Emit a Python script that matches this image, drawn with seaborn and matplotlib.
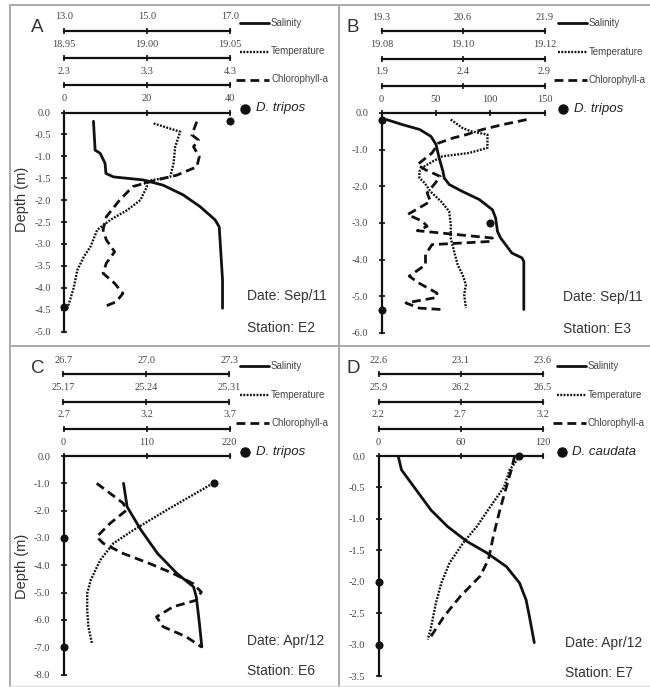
import matplotlib
matplotlib.use("Agg")
import matplotlib.pyplot as plt
from matplotlib.lines import Line2D
import seaborn as sns

# ---------------- data ----------------
# Panel A  (Sep/11, station E2)
a_sal_depth = [-0.20, -0.86, -0.93, -1.16, -1.39, -1.47, -1.54, -1.66, -1.88, -2.15, -2.45, -2.61, -3.21, -3.82, -4.47]
a_sal = [13.71, 13.75, 13.87, 13.99, 14.01, 14.19, 14.91, 15.39, 15.87, 16.28, 16.64, 16.74, 16.78, 16.82, 16.82]
a_temp_depth = [-0.25, -0.44, -0.78, -1.16, -1.47, -1.58, -1.69, -2.00, -2.23, -2.45, -2.68, -3.06, -3.29, -3.60, -3.98, -4.36, -4.47]
a_temp = [19.004, 19.020, 19.017, 19.016, 19.014, 18.998, 19.000, 18.996, 18.988, 18.978, 18.970, 18.966, 18.962, 18.958, 18.956, 18.953, 18.952]
a_chl_depth = [-0.21, -0.51, -0.63, -0.78, -1.01, -1.24, -1.43, -1.54, -1.69, -2.00, -2.38, -2.68, -2.91, -3.18, -3.44, -3.67, -3.90, -4.13, -4.32, -4.43]
a_chl = [3.90, 3.84, 3.92, 3.86, 3.93, 3.90, 3.66, 3.42, 3.13, 2.97, 2.81, 2.77, 2.81, 2.91, 2.81, 2.77, 2.91, 3.01, 2.93, 2.79]
a_cell_depth = [-0.20, -4.45]
a_cells = [40, 0]
a_depth_ticks = [0.0, -0.5, -1.0, -1.5, -2.0, -2.5, -3.0, -3.5, -4.0, -4.5, -5.0]
a_sal_ticks = ["13.0", "15.0", "17.0"]
a_temp_ticks = ["18.95", "19.00", "19.05"]
a_chl_ticks = ["2.3", "3.3", "4.3"]
a_cell_ticks = ["0", "20", "40"]

# Panel B  (Sep/11, station E3)
b_sal_depth = [-0.18, -0.32, -0.45, -0.64, -0.86, -1.23, -1.59, -1.77, -1.95, -2.14, -2.36, -2.64, -2.86, -3.23, -3.41, -3.59, -3.82, -3.95, -4.05, -5.36]
b_sal = [19.38, 19.64, 19.91, 20.09, 20.17, 20.22, 20.28, 20.30, 20.38, 20.59, 20.86, 21.07, 21.12, 21.15, 21.20, 21.28, 21.38, 21.54, 21.57, 21.57]
b_temp_depth = [-0.18, -0.41, -0.50, -0.59, -0.77, -0.95, -1.09, -1.18, -1.32, -1.45, -1.59, -1.77, -1.91, -2.14, -2.41, -2.68, -3.05, -3.41, -3.77, -4.14, -4.41, -4.68, -4.95, -5.32]
b_temp = [19.0970, 19.0999, 19.1020, 19.1060, 19.1060, 19.1060, 19.1015, 19.0950, 19.0926, 19.0906, 19.0893, 19.0893, 19.0906, 19.0920, 19.0946, 19.0966, 19.0970, 19.0970, 19.0978, 19.0987, 19.0999, 19.1007, 19.1003, 19.1007]
b_chl_depth = [-0.18, -0.32, -0.45, -0.59, -0.68, -0.82, -1.09, -1.41, -1.55, -1.73, -1.91, -2.18, -2.41, -2.77, -2.95, -3.09, -3.21, -3.41, -3.50, -3.59, -3.86, -4.14, -4.45, -4.64, -4.91, -5.03, -5.18, -5.32, -5.36]
b_chl = [2.79, 2.64, 2.52, 2.42, 2.34, 2.25, 2.21, 2.12, 2.17, 2.26, 2.23, 2.18, 2.20, 2.06, 2.15, 2.18, 2.12, 2.58, 2.58, 2.21, 2.17, 2.17, 2.07, 2.13, 2.24, 2.24, 2.05, 2.13, 2.27]
b_cell_depth = [-0.18, -3.0, -5.36]
b_cells = [0, 100, 0]
b_depth_ticks = [0.0, -1.0, -2.0, -3.0, -4.0, -5.0, -6.0]
b_sal_ticks = ["19.3", "20.6", "21.9"]
b_temp_ticks = ["19.08", "19.10", "19.12"]
b_chl_ticks = ["1.9", "2.4", "2.9"]
b_cell_ticks = ["0", "50", "100", "150"]

# Panel C  (Apr/12, station E6)
c_sal_depth = [-1.0, -1.86, -2.71, -3.57, -4.30, -4.79, -5.16, -6.01, -6.99]
c_sal = [26.917, 26.93, 26.98, 27.04, 27.11, 27.17, 27.18, 27.19, 27.20]
c_temp_depth = [-1.0, -1.98, -2.71, -3.2, -3.81, -4.54, -5.03, -5.64, -6.25, -6.86]
c_temp = [25.296, 25.257, 25.229, 25.212, 25.201, 25.193, 25.190, 25.190, 25.191, 25.194]
c_chl_depth = [-1.0, -1.73, -1.98, -2.47, -2.96, -3.2, -3.57, -3.94, -4.30, -4.67, -4.98, -5.28, -5.52, -5.89, -6.25, -6.62, -6.99]
c_chl = [2.90, 3.06, 3.08, 2.98, 2.90, 2.94, 3.06, 3.22, 3.36, 3.48, 3.53, 3.50, 3.36, 3.26, 3.30, 3.44, 3.53]
c_cell_depth = [-1.0, -3.0, -7.0]
c_cells = [200, 0, 0]
c_depth_ticks = [0.0, -1.0, -2.0, -3.0, -4.0, -5.0, -6.0, -7.0, -8.0]
c_sal_ticks = ["26.7", "27.0", "27.3"]
c_temp_ticks = ["25.17", "25.24", "25.31"]
c_chl_ticks = ["2.7", "3.2", "3.7"]
c_cell_ticks = ["0", "110", "220"]

# Panel D  (Apr/12, station E7)
d_sal_depth = [0.0, -0.22, -0.54, -0.86, -1.12, -1.36, -1.54, -1.76, -2.02, -2.29, -2.55, -2.97]
d_sal = [22.72, 22.74, 22.83, 22.92, 23.02, 23.14, 23.26, 23.38, 23.46, 23.50, 23.52, 23.55]
d_temp_depth = [0.0, -0.22, -0.49, -0.80, -1.12, -1.38, -1.70, -2.02, -2.34, -2.77, -2.92]
d_temp = [26.418, 26.38, 26.36, 26.31, 26.26, 26.21, 26.16, 26.13, 26.11, 26.09, 26.08]
d_chl_depth = [0.0, -0.22, -0.49, -0.86, -1.28, -1.65, -1.91, -2.23, -2.55, -2.87]
d_chl = [3.03, 3.01, 2.98, 2.94, 2.90, 2.87, 2.82, 2.70, 2.60, 2.52]
d_cell_depth = [0.0, -2.0, -3.0]
d_cells = [103, 0, 0]
d_depth_ticks = [0.0, -0.5, -1.0, -1.5, -2.0, -2.5, -3.0, -3.5]
d_sal_ticks = ["22.6", "23.1", "23.6"]
d_temp_ticks = ["25.9", "26.2", "26.5"]
d_chl_ticks = ["2.2", "2.7", "3.2"]
d_cell_ticks = ["0", "60", "120"]

variable_names = ["Salinity", "Temperature", "Chlorophyll-a"]

# ---------------- styling ----------------
sns.set_theme(style="white")
plt.rcParams["font.family"] = ["Liberation Sans", "DejaVu Sans"]
plt.rcParams["axes.unicode_minus"] = False

W, H = 650, 687
INK = "#111111"
TICK = "#444444"
SERIF = "Liberation Serif"
STYLES = {
    "solid": dict(linewidth=2.0, linestyle="-"),
    "dotted": dict(linewidth=1.7, linestyle=(0, (0.8, 0.6))),
    "dashed": dict(linewidth=2.0, linestyle=(0, (3.2, 1.8))),
}
AXIS_OFFSETS = [82, 54.5, 27.5]      # px above the cell-count axis
KEY_ROWS = [90, 61, 33]              # px above the cell-count axis

fig = plt.figure(figsize=(W / 100, H / 100), dpi=100)
fig.patch.set_facecolor("white")


def fx(x):
    return x / W


def fy(y):
    return 1 - y / H


def fmt_depth(v):
    return "0.0" if v == 0 else f"{v:.1f}"


def style_ticklabels(axis):
    for tick in axis.get_major_ticks():
        for lab in (tick.label1, tick.label2):
            lab.set_fontfamily(SERIF)
            lab.set_fontsize(7.5)
            lab.set_color(TICK)


def draw_panel(box, letter, letter_pos, depth_ticks, profiles, cells, cell_ticks,
               species, date, station, text_pos, key_dx, depth_label_y=None):
    l, t, r, b = box
    ax = fig.add_axes([fx(l), fy(b), (r - l) / W, (b - t) / H])

    for (vals, deps, labels, style), off in zip(profiles, AXIS_OFFSETS):
        tw = ax.twiny()
        sns.lineplot(x=vals, y=deps, ax=tw, sort=False, estimator=None,
                     color=INK, legend=False, **STYLES[style])
        ticks = [float(s) for s in labels]
        tw.set_xlim(ticks[0], ticks[-1])
        tw.xaxis.set_ticks_position("top")
        tw.set_xticks(ticks, labels=labels)
        tw.spines["top"].set_position(("outward", off * 0.72))
        tw.spines["top"].set_linewidth(1.6)
        tw.spines["top"].set_color(INK)
        for side in ("left", "right", "bottom"):
            tw.spines[side].set_visible(False)
        tw.tick_params(axis="x", top=True, bottom=False, labeltop=True, labelbottom=False,
                       direction="inout", length=5, width=1.2, pad=4, color=INK)
        style_ticklabels(tw.xaxis)
        tw.set_xlabel("")
        tw.set_ylabel("")

    # cell counts on the main axes, drawn over the profiles
    ax.set_zorder(10)
    ax.patch.set_alpha(0)
    sns.scatterplot(x=cells[1], y=cells[0], ax=ax, color=INK, s=34, linewidth=0,
                    legend=False, clip_on=False, zorder=6)
    cticks = [float(s) for s in cell_ticks]
    ax.set_xlim(cticks[0], cticks[-1])
    ax.set_ylim(depth_ticks[-1], 0)
    ax.xaxis.tick_top()
    ax.set_xticks(cticks, labels=cell_ticks)
    ax.set_yticks(depth_ticks, labels=[fmt_depth(v) for v in depth_ticks])
    ax.tick_params(axis="x", top=True, bottom=False, labeltop=True, labelbottom=False,
                   direction="inout", length=5, width=1.2, pad=4, color=INK)
    ax.tick_params(axis="y", left=True, right=False, direction="inout",
                   length=5, width=1.2, pad=7, color=INK)
    style_ticklabels(ax.xaxis)
    style_ticklabels(ax.yaxis)
    for side in ("right", "bottom"):
        ax.spines[side].set_visible(False)
    for side in ("left", "top"):
        ax.spines[side].set_linewidth(1.6)
        ax.spines[side].set_color(INK)
    ax.set_xlabel("")
    ax.set_ylabel("")

    # key
    kx = r + key_dx
    for (vals, deps, labels, style), name, row in zip(profiles, variable_names, KEY_ROWS):
        ky = fy(t - row)
        x0 = kx - 4 if style == "dashed" else kx
        fig.add_artist(Line2D([fx(x0), fx(kx + 29)], [ky, ky], color=INK, **STYLES[style]))
        fig.text(fx(kx + 31), ky, name, fontsize=7, va="center", ha="left", color="#444444")
    fig.add_artist(Line2D([fx(kx + 5)], [fy(t - 4)], marker="o", markersize=6.5,
                          color=INK, linestyle="none"))
    fig.text(fx(kx + 16), fy(t - 4), species, fontsize=9.5, style="italic",
             va="center", ha="left", color="#222222")

    # annotations
    fig.text(fx(letter_pos[0]), fy(letter_pos[1]), letter, fontsize=13.5,
             va="baseline", ha="left", color="#333333")
    fig.text(fx(text_pos[0]), fy(text_pos[1]), f"Date: {date}", fontsize=10,
             va="baseline", ha="left", color="#333333")
    fig.text(fx(text_pos[0]), fy(text_pos[2]), f"Station: {station}", fontsize=10,
             va="baseline", ha="left", color="#333333")
    if depth_label_y is not None:
        fig.text(fx(22), fy(depth_label_y), "Depth (m)", rotation=90, fontsize=10.5,
                 va="center", ha="center", color="#333333")


draw_panel((64, 112.5, 230, 331.5), "A", (31, 31.5), a_depth_ticks,
           [(a_sal, a_sal_depth, a_sal_ticks, "solid"),
            (a_temp, a_temp_depth, a_temp_ticks, "dotted"),
            (a_chl, a_chl_depth, a_chl_ticks, "dashed")],
           (a_cell_depth, a_cells), a_cell_ticks, "D. tripos",
           "Sep/11", "E2", (247, 300, 332), 10, depth_label_y=199)

draw_panel((381.5, 113, 544.5, 333), "B", (347, 31.5), b_depth_ticks,
           [(b_sal, b_sal_depth, b_sal_ticks, "solid"),
            (b_temp, b_temp_depth, b_temp_ticks, "dotted"),
            (b_chl, b_chl_depth, b_chl_ticks, "dashed")],
           (b_cell_depth, b_cells), b_cell_ticks, "D. tripos",
           "Sep/11", "E3", (563, 301, 333), 13)

draw_panel((63.5, 456, 229.5, 674.5), "C", (31, 373), c_depth_ticks,
           [(c_sal, c_sal_depth, c_sal_ticks, "solid"),
            (c_temp, c_temp_depth, c_temp_ticks, "dotted"),
            (c_chl, c_chl_depth, c_chl_ticks, "dashed")],
           (c_cell_depth, c_cells), c_cell_ticks, "D. tripos",
           "Apr/12", "E6", (247, 645, 675), 10.5, depth_label_y=566)

draw_panel((378.5, 456, 542.5, 676), "D", (347, 373), d_depth_ticks,
           [(d_sal, d_sal_depth, d_sal_ticks, "solid"),
            (d_temp, d_temp_depth, d_temp_ticks, "dotted"),
            (d_chl, d_chl_depth, d_chl_ticks, "dashed")],
           (d_cell_depth, d_cells), d_cell_ticks, "D. caudata",
           "Apr/12", "E7", (565, 646.5, 677), 14)

# panel frame
FRAME = dict(color="#aaaaaa", linewidth=1.4)
fig.add_artist(Line2D([fx(10), fx(10)], [fy(5), fy(686)], **FRAME))
fig.add_artist(Line2D([fx(10), fx(650)], [fy(5), fy(5)], **FRAME))
fig.add_artist(Line2D([fx(339), fx(339)], [fy(5), fy(686)], **FRAME))
fig.add_artist(Line2D([fx(10), fx(650)], [fy(346), fy(346)], **FRAME))
fig.add_artist(Line2D([fx(10), fx(650)], [fy(685.5), fy(685.5)], color="#dddddd", linewidth=1.0))

fig.savefig("out.png", dpi=100, facecolor="white")
